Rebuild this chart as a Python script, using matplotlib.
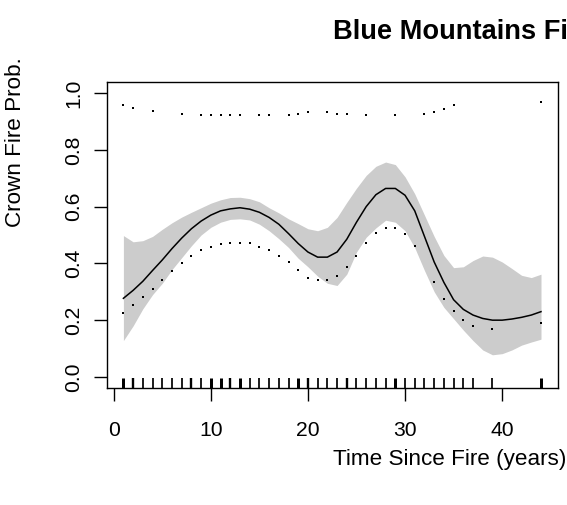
import numpy as np
import matplotlib
matplotlib.use('Agg')
import matplotlib.pyplot as plt
import matplotlib.transforms as mtransforms

plt.rcParams['font.family'] = ['Liberation Sans', 'DejaVu Sans']

# years since fire at which sites were sampled (rug) and number of sites per year
rug_years = list(range(1, 38)) + [39, 44]
rug_counts = [3, 2, 1, 1, 1, 1, 1, 2, 1, 3, 3, 2, 3, 1, 1, 1, 1, 1, 3, 2,
              1, 1, 1, 2, 1, 1, 1, 1, 3, 1, 1, 1, 1, 1, 1, 1, 1, 1, 3]

# smoothed crown fire probability with confidence band
fit_years = list(range(1, 45))
fit_prob = [0.277, 0.305, 0.337, 0.375, 0.412, 0.452, 0.489, 0.522, 0.549, 0.570,
            0.585, 0.592, 0.596, 0.591, 0.580, 0.562, 0.538, 0.505, 0.470, 0.440,
            0.422, 0.422, 0.440, 0.485, 0.545, 0.600, 0.642, 0.664, 0.664, 0.640,
            0.585, 0.495, 0.405, 0.333, 0.272, 0.238, 0.218, 0.206, 0.200, 0.200,
            0.204, 0.210, 0.218, 0.230]
band_hi = [0.498, 0.476, 0.480, 0.495, 0.520, 0.543, 0.563, 0.580, 0.596, 0.612,
           0.624, 0.632, 0.633, 0.628, 0.617, 0.596, 0.578, 0.557, 0.540, 0.522,
           0.515, 0.527, 0.562, 0.615, 0.665, 0.710, 0.742, 0.757, 0.748, 0.705,
           0.645, 0.570, 0.495, 0.428, 0.385, 0.388, 0.410, 0.426, 0.422, 0.405,
           0.382, 0.358, 0.350, 0.362]
band_lo = [0.128, 0.180, 0.240, 0.290, 0.330, 0.378, 0.420, 0.462, 0.500, 0.527,
           0.545, 0.555, 0.557, 0.553, 0.538, 0.515, 0.487, 0.456, 0.418, 0.388,
           0.355, 0.330, 0.322, 0.362, 0.440, 0.492, 0.525, 0.552, 0.545, 0.515,
           0.455, 0.375, 0.300, 0.245, 0.205, 0.165, 0.128, 0.095, 0.078, 0.082,
           0.095, 0.112, 0.123, 0.133]

# observed proportions (upper) and model estimates (lower) per year
hi_years = [1, 2, 4, 7, 9, 10, 11, 12, 13, 15, 16, 18, 19, 20, 22, 23, 24, 26,
            29, 32, 33, 34, 35, 44]
hi_prob = [0.959, 0.947, 0.936, 0.927, 0.922, 0.922, 0.922, 0.922, 0.922, 0.922,
           0.922, 0.922, 0.927, 0.933, 0.933, 0.927, 0.927, 0.922, 0.922, 0.927,
           0.933, 0.943, 0.959, 0.968]
lo_years = list(range(1, 32)) + [33, 34, 35, 36, 37, 39, 44]
lo_prob = [0.226, 0.254, 0.282, 0.311, 0.341, 0.372, 0.401, 0.425, 0.446, 0.457,
           0.468, 0.471, 0.471, 0.471, 0.459, 0.447, 0.427, 0.404, 0.378, 0.350,
           0.341, 0.341, 0.357, 0.388, 0.427, 0.471, 0.506, 0.526, 0.526, 0.502,
           0.460, 0.336, 0.273, 0.234, 0.202, 0.181, 0.170, 0.191]

fig = plt.figure(figsize=(5.67, 5.05), dpi=100)
ax = fig.add_axes([0.1882, 0.2311, 0.7954, 0.6071])

ax.fill_between(fit_years, band_lo, band_hi, color='#cccccc', lw=0)
ax.plot(fit_years, fit_prob, color='black', lw=1.1)
ax.scatter(hi_years, hi_prob, s=3.5, marker='s', color='black', lw=0)
ax.scatter(lo_years, lo_prob, s=3.5, marker='s', color='black', lw=0)

# rug along the bottom edge
trans = mtransforms.blended_transform_factory(ax.transData, ax.transAxes)
ax.vlines(rug_years, 0, 0.035, transform=trans, color='black',
          lw=[0.8 + 0.45 * c for c in rug_counts])

ax.set_xlim(-0.72, 45.72)
ax.set_ylim(-0.04, 1.04)
ax.set_xticks([0, 10, 20, 30, 40])
ax.set_yticks([0.0, 0.2, 0.4, 0.6, 0.8, 1.0])
ax.set_yticklabels(['0.0', '0.2', '0.4', '0.6', '0.8', '1.0'])
ax.tick_params(length=9.6, width=1.0, labelsize=15.2, direction='out')
ax.tick_params(axis='x', pad=14)
ax.tick_params(axis='y', pad=7.5, labelrotation=90)
for lab in ax.get_yticklabels():
    lab.set_va('center')
for s in ax.spines.values():
    s.set_linewidth(1.0)

fig.text(333 / 567, 1 - 32 / 505, 'Blue Mountains Fi', fontsize=19.6,
         fontweight='bold', ha='left', va='center')
fig.text(450 / 567, 1 - 460 / 505, 'Time Since Fire (years)', fontsize=16.2,
         ha='center', va='center')
fig.text(16 / 567, 1 - 142 / 505, 'Crown Fire Prob.', fontsize=16.2,
         rotation=90, ha='center', va='center')

fig.savefig('out.png', dpi=100)
